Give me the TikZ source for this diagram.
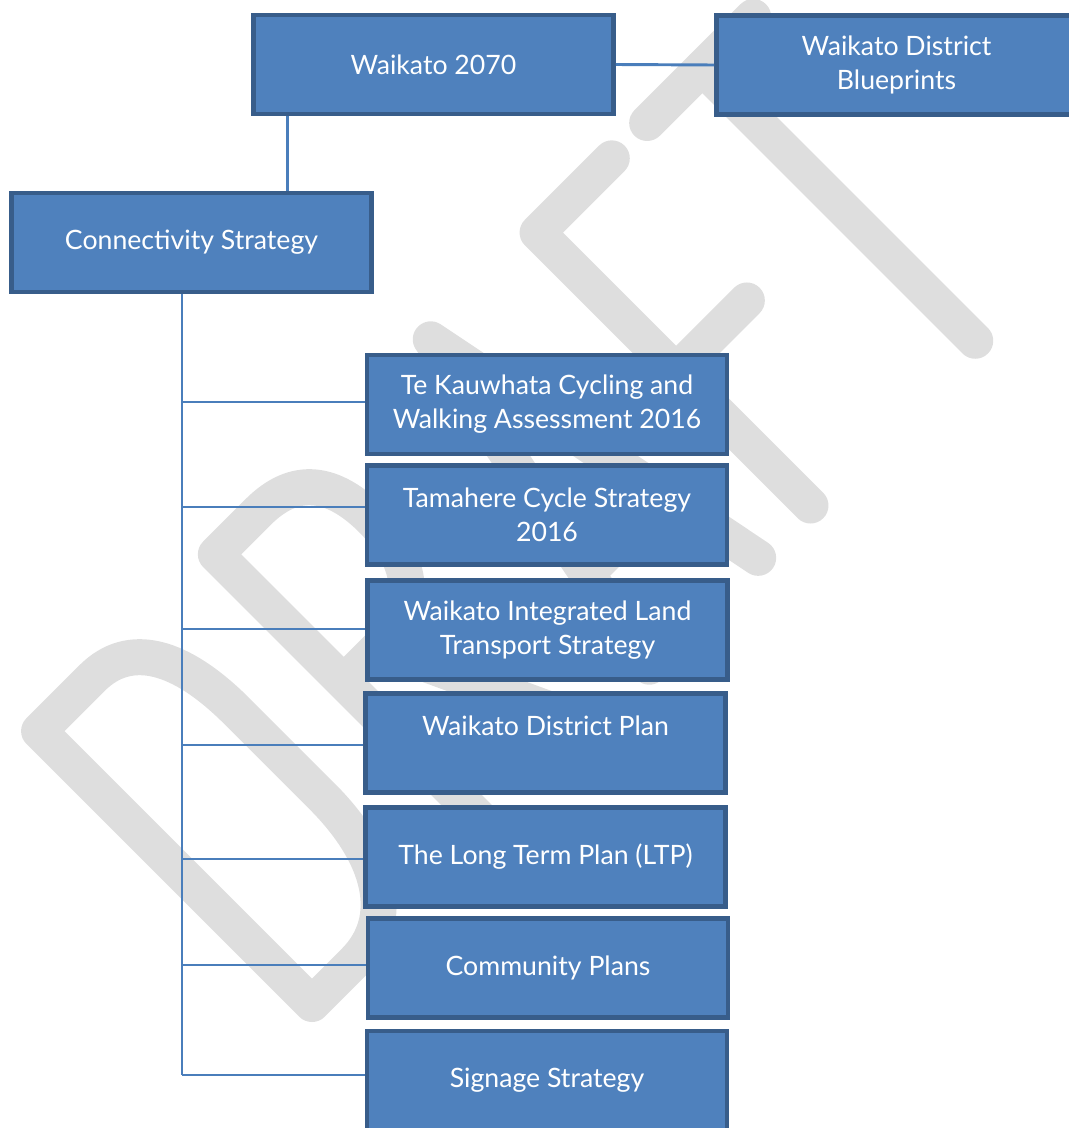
\documentclass[tikz,border=0pt]{standalone}
\usepackage{fontspec}
\setmainfont{Lato}
\usetikzlibrary{calc}
\definecolor{boxfill}{HTML}{4F81BD}
\definecolor{boxline}{HTML}{385D8A}
\definecolor{linkblue}{HTML}{4A7EBB}
\definecolor{wmgray}{HTML}{DEDEDE}
\begin{document}
\begin{tikzpicture}[x=0.75pt, y=-0.75pt,
    planbox/.style={draw=boxline, fill=boxfill, line width=3.4pt,
        minimum width=270pt, minimum height=74pt, inner sep=0pt,
        align=center, text=white, font=\fontsize{20pt}{25.5pt}\selectfont},
    link/.style={draw=linkblue, line width=2.2pt},
    branch/.style={draw=linkblue, line width=1.5pt},
    wmstroke/.style={draw=wmgray, line width=27pt, line cap=round, line join=round}]
    \useasboundingbox (0,0) rectangle (1069,1128);
    \clip (0,0) rectangle (1069,1128);

    % Watermark
        % letter frame: a along the baseline, b up the letter
        \begin{scope}[shift={(312,1004)}, x={(0.5303pt,0.5303pt)}, y={(-0.5303pt,0.5303pt)}]
            % D
            \draw[wmstroke] (0,0) -- (0,386) -- (75,386)
                .. controls (128,386) and (154,340) .. (154,260) -- (154,140)
                .. controls (154,55) and (120,0) .. (60,0) -- cycle;
            % R
            \draw[wmstroke] (250,0) -- (250,386) -- (310,386)
                .. controls (362,386) and (385,355) .. (385,300)
                .. controls (385,240) and (355,205) .. (305,205) -- (250,205);
            \draw[wmstroke] (300,205) -- (395,0);
            % A
            \draw[wmstroke] (477,0) -- (554,386) -- (631,0);
            \draw[wmstroke] (499,110) -- (609,110);
            % F
            \draw[wmstroke] (705,0) -- (705,386) -- (810,386);
            \draw[wmstroke] (705,190) -- (805,190);
            % T
            \draw[wmstroke] (860,386) -- (1010,386);
            \draw[wmstroke] (938,386) -- (938,0);
        \end{scope}

    % Top level
        \node[planbox] (w2070) at (433.5,64.5) {Waikato 2070};
        \node[planbox] (blue) at (896.5,65) {Waikato District\\Blueprints};
        \node[planbox] (conn) at (191.5,242.5) {Connectivity Strategy};

    % Strategies and plans
        \node[planbox] (tek) at (547,404.5) {Te Kauwhata Cycling and\\Walking Assessment 2016};
        \node[planbox] (tam) at (547,515) {Tamahere Cycle Strategy\\2016};
        \node[planbox] (wil) at (547.5,630) {Waikato Integrated Land\\Transport Strategy};
        \node[planbox] (wdp) at (545.5,743) {Waikato District Plan\\~};
        \node[planbox] (ltp) at (545.5,857) {The Long Term Plan (LTP)};
        \node[planbox] (com) at (548,968) {Community Plans};
        \node[planbox] (sig) at (547,1080.5) {Signage Strategy};

    % Connectors
        \draw[link] (w2070.east) -- (blue.west);
        \coordinate (drop) at ($(w2070.south west)+(36,0)$);
        \draw[link] (drop) -- (drop |- conn.north);
        \coordinate (trunk) at ($(conn.south)+(-10,0)$);
        \draw[branch] (trunk) -- (trunk |- {$(sig.west)+(0,-6)$});
        % branches sit a little off the box middles
        \foreach \n/\dy in {tek/-3,tam/-8,wil/-1,wdp/2,ltp/2,com/-3,sig/-6}
            \draw[branch] (trunk |- {$(\n.west)+(0,\dy)$}) -- ($(\n.west)+(0,\dy)$);
\end{tikzpicture}
\end{document}
